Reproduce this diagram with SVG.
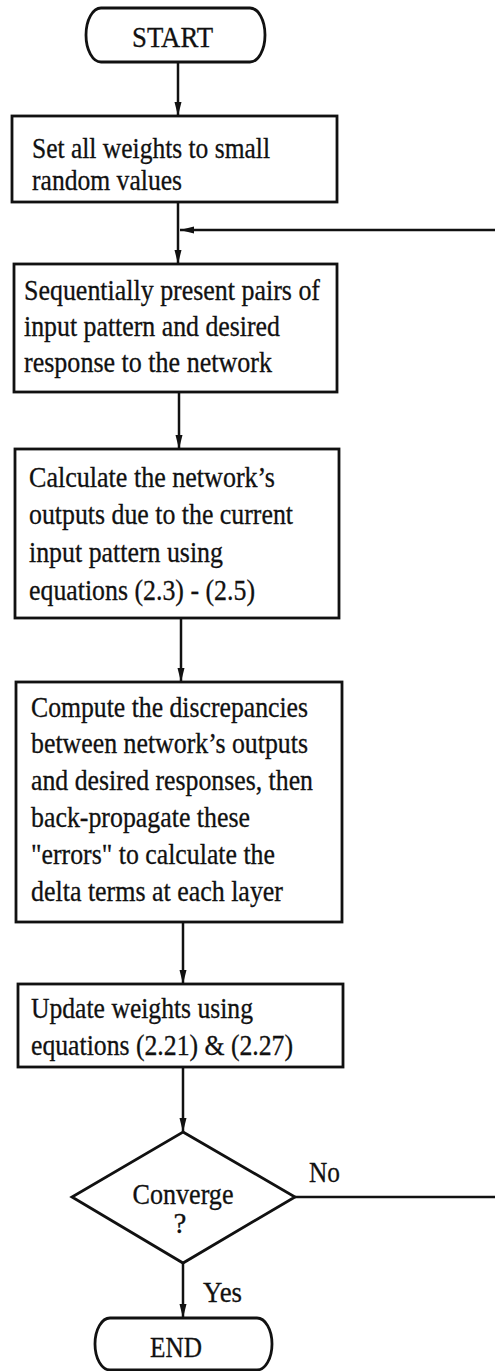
<svg xmlns="http://www.w3.org/2000/svg" width="495" height="1371" viewBox="0 0 495 1371">
<style>
.shape{fill:#fff;stroke:#111;stroke-width:2.8}
.conn{fill:none;stroke:#111;stroke-width:2.5}
text{font-family:"Liberation Serif","Times New Roman",serif;font-size:29px;fill:#111;stroke:#111;stroke-width:0.3}
.mid{text-anchor:middle}
</style>
<defs>
<marker id="arr" markerUnits="userSpaceOnUse" markerWidth="15" markerHeight="8" refX="14" refY="4" orient="auto">
<path d="M0,0.5 L14,4 L0,7.5 z" fill="#111"/>
</marker>
</defs>
<rect width="495" height="1371" fill="#fff"/>
<g id="connectors">
<path class="conn" d="M178,62 V116" marker-end="url(#arr)"/>
<path class="conn" d="M178,202 V264" marker-end="url(#arr)"/>
<path class="conn" d="M295,1197 H500 V230 H180" marker-end="url(#arr)"/>
<path class="conn" d="M179,392 V449" marker-end="url(#arr)"/>
<path class="conn" d="M181,618 V682" marker-end="url(#arr)"/>
<path class="conn" d="M183,922 V984" marker-end="url(#arr)"/>
<path class="conn" d="M183,1067 V1132" marker-end="url(#arr)"/>
<path class="conn" d="M183,1263 V1318" marker-end="url(#arr)"/>
<text x="309" y="1182" textLength="31" lengthAdjust="spacingAndGlyphs">No</text>
<text x="203" y="1302" textLength="39" lengthAdjust="spacingAndGlyphs">Yes</text>
</g>
<g id="start">
<rect class="shape" x="86" y="8" width="179" height="54" rx="15" ry="27"/>
<text x="132" y="47" textLength="81" lengthAdjust="spacingAndGlyphs">START</text>
</g>
<g id="init">
<rect class="shape" x="12" y="116" width="325" height="86"/>
<text x="32" y="158" textLength="238" lengthAdjust="spacingAndGlyphs">Set all weights to small</text>
<text x="32" y="190" textLength="150" lengthAdjust="spacingAndGlyphs">random values</text>
</g>
<g id="present">
<rect class="shape" x="14" y="264" width="323" height="128"/>
<text x="24" y="300" textLength="296" lengthAdjust="spacingAndGlyphs">Sequentially present pairs of</text>
<text x="24" y="336" textLength="256" lengthAdjust="spacingAndGlyphs">input pattern and desired</text>
<text x="24" y="372" textLength="248" lengthAdjust="spacingAndGlyphs">response to the network</text>
</g>
<g id="calculate">
<rect class="shape" x="15" y="449" width="324" height="169"/>
<text x="29" y="487" textLength="246" lengthAdjust="spacingAndGlyphs">Calculate the network’s</text>
<text x="29" y="524" textLength="264" lengthAdjust="spacingAndGlyphs">outputs due to the current</text>
<text x="29" y="562" textLength="194" lengthAdjust="spacingAndGlyphs">input pattern using</text>
<text x="29" y="600" textLength="226" lengthAdjust="spacingAndGlyphs">equations (2.3) - (2.5)</text>
</g>
<g id="compute">
<rect class="shape" x="16" y="682" width="326" height="240"/>
<text x="31" y="717" textLength="277" lengthAdjust="spacingAndGlyphs">Compute the discrepancies</text>
<text x="31" y="753" textLength="277" lengthAdjust="spacingAndGlyphs">between network’s outputs</text>
<text x="31" y="790" textLength="282" lengthAdjust="spacingAndGlyphs">and desired responses, then</text>
<text x="31" y="827" textLength="219" lengthAdjust="spacingAndGlyphs">back-propagate these</text>
<text x="31" y="864" textLength="244" lengthAdjust="spacingAndGlyphs">"errors" to calculate the</text>
<text x="31" y="901" textLength="252" lengthAdjust="spacingAndGlyphs">delta terms at each layer</text>
</g>
<g id="update">
<rect class="shape" x="18" y="984" width="325" height="83"/>
<text x="31" y="1018" textLength="222" lengthAdjust="spacingAndGlyphs">Update weights using</text>
<text x="31" y="1055" textLength="262" lengthAdjust="spacingAndGlyphs">equations (2.21) &amp; (2.27)</text>
</g>
<g id="converge">
<polygon class="shape" points="183,1132 295,1197 183,1263 72,1197"/>
<text x="183" y="1204" class="mid" textLength="101" lengthAdjust="spacingAndGlyphs">Converge</text>
<text x="180" y="1233" class="mid">?</text>
</g>
<g id="end">
<rect class="shape" x="95" y="1318" width="177" height="52" rx="15" ry="26"/>
<text x="176" y="1357" class="mid" textLength="52" lengthAdjust="spacingAndGlyphs">END</text>
</g>
</svg>
